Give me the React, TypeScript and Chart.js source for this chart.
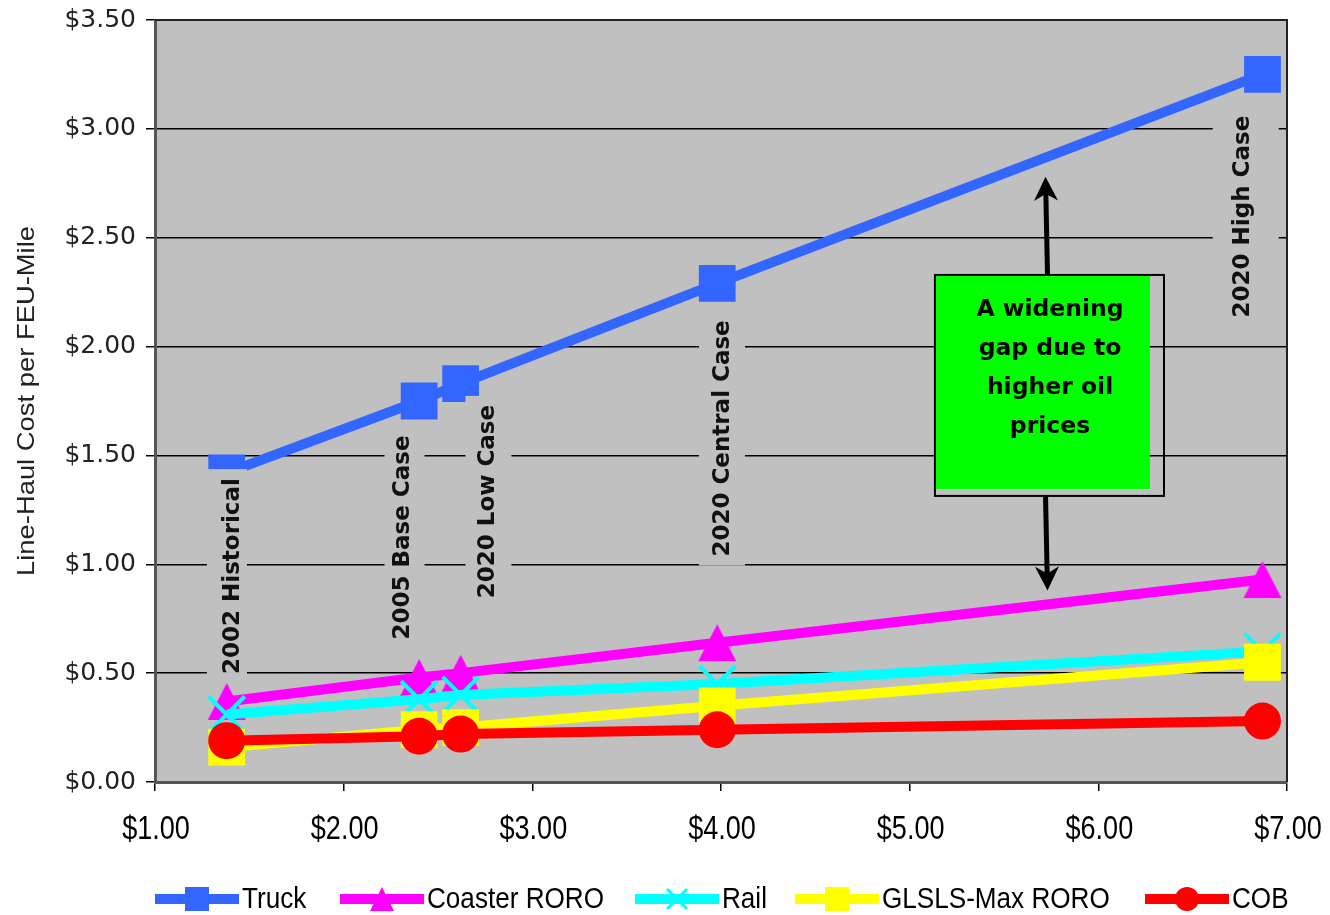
import React, { useEffect, useRef } from 'react';
import { Chart, registerables } from 'chart.js';

Chart.register(...registerables);

// ---- data ----
const oilPrices = [1.38, 2.40, 2.62, 3.98, 6.87];
const truck = [1.42, 1.75, 1.83, 2.29, 3.25];
const coasterRoro = [0.37, 0.48, 0.50, 0.64, 0.93];
const rail = [0.31, 0.38, 0.40, 0.45, 0.60];
const glslsMaxRoro = [0.16, 0.24, 0.25, 0.35, 0.55];
const cob = [0.19, 0.21, 0.22, 0.24, 0.28];
const seriesNames = ['Truck', 'Coaster RORO', 'Rail', 'GLSLS-Max RORO', 'COB'];
const caseLabels = ['2002 Historical', '2005 Base Case', '2020 Low Case', '2020 Central Case', '2020 High Case'];
const calloutLines = ['A widening', 'gap due to', 'higher oil', 'prices'];
const yAxisTitle = 'Line-Haul Cost per FEU-Mile';

// ---- annotation placement (data units) ----
const caseLabelPos = [
  { x: 1.408, y: 0.946, half: 20, dx: -5 },
  { x: 2.312, y: 1.123, half: 20, dx: 2 },
  { x: 2.762, y: 1.288, half: 23, dx: 1 },
  { x: 4.005, y: 1.578, half: 23, dx: 0 },
  { x: 6.76, y: 2.597, half: 33, dx: 4 },
];
const callout = { x0: 5.134, x1: 6.348, fillX1: 6.274, y0: 2.329, y1: 1.314, fillY1: 1.346, textX: 5.744, arrowX: 5.72, upTip: 2.78, downTip: 0.88 };

const colors = ['#3366ff', '#ff00ff', '#00ffff', '#ffff00', '#ff0000'];
const markers = ['rect', 'triangle', 'cross', 'rect', 'circle'];

function makeTriangle(color: string, w: number, h: number) {
  const c = document.createElement('canvas');
  c.width = Math.ceil(w) + 2;
  c.height = Math.ceil(h) + 2;
  const g = c.getContext('2d')!;
  g.fillStyle = color;
  g.beginPath();
  g.moveTo(c.width / 2, 1);
  g.lineTo(c.width / 2 + w / 2, 1 + h);
  g.lineTo(c.width / 2 - w / 2, 1 + h);
  g.closePath();
  g.fill();
  return c;
}

function drawMarker(ctx: CanvasRenderingContext2D, type: string, x: number, y: number, s: number, color: string) {
  ctx.save();
  ctx.fillStyle = color;
  ctx.strokeStyle = color;
  if (type === 'rect') {
    ctx.fillRect(x - s / 2, y - s / 2, s, s);
  } else if (type === 'circle') {
    ctx.beginPath();
    ctx.arc(x, y, s / 2, 0, Math.PI * 2);
    ctx.fill();
  } else if (type === 'triangle') {
    ctx.beginPath();
    ctx.moveTo(x, y - s / 2);
    ctx.lineTo(x + s / 2, y + s / 2);
    ctx.lineTo(x - s / 2, y + s / 2);
    ctx.closePath();
    ctx.fill();
  } else {
    ctx.lineWidth = 3;
    ctx.beginPath();
    ctx.moveTo(x - s / 2, y - s / 2);
    ctx.lineTo(x + s / 2, y + s / 2);
    ctx.moveTo(x + s / 2, y - s / 2);
    ctx.lineTo(x - s / 2, y + s / 2);
    ctx.stroke();
  }
  ctx.restore();
}

function drawArrow(ctx: CanvasRenderingContext2D, x1: number, y1: number, x2: number, y2: number) {
  const ang = Math.atan2(y2 - y1, x2 - x1);
  const headLen = 24;
  const headHalf = 12;
  const bx = x2 - headLen * Math.cos(ang);
  const by = y2 - headLen * Math.sin(ang);
  ctx.save();
  ctx.strokeStyle = '#000';
  ctx.fillStyle = '#000';
  ctx.lineWidth = 5;
  ctx.beginPath();
  ctx.moveTo(x1, y1);
  ctx.lineTo(x2 - 14 * Math.cos(ang), y2 - 14 * Math.sin(ang));
  ctx.stroke();
  ctx.beginPath();
  ctx.moveTo(x2, y2);
  ctx.lineTo(bx + headHalf * Math.sin(ang), by - headHalf * Math.cos(ang));
  ctx.lineTo(x2 - 17 * Math.cos(ang), y2 - 17 * Math.sin(ang));
  ctx.lineTo(bx - headHalf * Math.sin(ang), by + headHalf * Math.cos(ang));
  ctx.closePath();
  ctx.fill();
  ctx.restore();
}

const frameBgPlugin = {
  id: 'frameBg',
  beforeDraw(chart: any) {
    const { ctx, chartArea: a } = chart;
    ctx.save();
    ctx.fillStyle = '#c0c0c0';
    ctx.fillRect(a.left, a.top, a.right - a.left, a.bottom - a.top);
    ctx.restore();
  },
};

const annotationPlugin = {
  id: 'annotations',
  afterDatasetsDraw(chart: any) {
    const { ctx, chartArea: a } = chart;
    const xs = chart.scales.x;
    const ys = chart.scales.y;
    // case labels with grey boxes
    ctx.save();
    ctx.font = 'bold 23px "DejaVu Sans"';
    caseLabels.forEach((t, i) => {
      const p = caseLabelPos[i];
      const cx = xs.getPixelForValue(p.x);
      const cy = ys.getPixelForValue(p.y);
      const w = ctx.measureText(t).width;
      ctx.fillStyle = '#c0c0c0';
      ctx.fillRect(cx + p.dx - p.half, cy - w / 2 - 9, p.half * 2, w + 18);
      ctx.save();
      ctx.translate(cx, cy);
      ctx.rotate(-Math.PI / 2);
      ctx.fillStyle = '#111';
      ctx.textAlign = 'center';
      ctx.textBaseline = 'middle';
      ctx.fillText(t, 0, 1);
      ctx.restore();
    });
    ctx.restore();

    // callout box with arrows
    const bx0 = xs.getPixelForValue(callout.x0);
    const bx1 = xs.getPixelForValue(callout.x1);
    const fx1 = xs.getPixelForValue(callout.fillX1);
    const by0 = ys.getPixelForValue(callout.y0);
    const by1 = ys.getPixelForValue(callout.y1);
    const fy1 = ys.getPixelForValue(callout.fillY1);
    const ax = xs.getPixelForValue(callout.arrowX);
    drawArrow(ctx, ax + 2, by0, ax, ys.getPixelForValue(callout.upTip));
    drawArrow(ctx, ax, by1, ax + 2, ys.getPixelForValue(callout.downTip));
    ctx.save();
    ctx.fillStyle = '#00ff00';
    ctx.fillRect(bx0, by0, fx1 - bx0, fy1 - by0);
    ctx.strokeStyle = '#000';
    ctx.lineWidth = 2;
    ctx.strokeRect(bx0, by0, bx1 - bx0, by1 - by0);
    ctx.fillStyle = '#000';
    ctx.font = 'bold 23.5px "DejaVu Sans"';
    ctx.textAlign = 'center';
    ctx.textBaseline = 'middle';
    const tx = xs.getPixelForValue(callout.textX);
    calloutLines.forEach((l, i) => ctx.fillText(l, tx, by0 + 35 + i * 39));
    ctx.restore();

    // frame top/right
    ctx.save();
    ctx.strokeStyle = '#222';
    ctx.lineWidth = 2;
    ctx.beginPath();
    ctx.moveTo(a.left, a.top);
    ctx.lineTo(a.right, a.top);
    ctx.lineTo(a.right, a.bottom);
    ctx.stroke();
    ctx.restore();
  },
  afterDraw(chart: any) {
    const { ctx, chartArea: a } = chart;
    const xs = chart.scales.x;
    // x tick labels (condensed look)
    ctx.save();
    ctx.font = '33px "Liberation Sans"';
    ctx.fillStyle = '#000';
    ctx.textAlign = 'center';
    ctx.textBaseline = 'middle';
    xs.ticks.forEach((t: any) => {
      const px = xs.getPixelForValue(t.value);
      ctx.save();
      ctx.translate(px + 1, a.bottom + 48);
      ctx.scale(0.82, 1);
      ctx.fillText('$' + Number(t.value).toFixed(2), 0, 0);
      ctx.restore();
    });
    ctx.restore();

    // y axis title
    ctx.save();
    ctx.translate(27, (a.top + a.bottom) / 2);
    ctx.rotate(-Math.PI / 2);
    ctx.font = '24px "Liberation Sans"';
    const w = ctx.measureText(yAxisTitle).width;
    ctx.scale(350 / w, 1);
    ctx.fillStyle = '#222';
    ctx.textAlign = 'center';
    ctx.textBaseline = 'middle';
    ctx.fillText(yAxisTitle, 0, 0);
    ctx.restore();

    // legend
    const lx = [155, 340, 635, 795, 1145];
    const ly = 899;
    ctx.save();
    seriesNames.forEach((name, i) => {
      ctx.strokeStyle = colors[i];
      ctx.lineWidth = 10;
      ctx.beginPath();
      ctx.moveTo(lx[i], ly);
      ctx.lineTo(lx[i] + 84, ly);
      ctx.stroke();
      drawMarker(ctx, markers[i], lx[i] + 42, ly, markers[i] === 'cross' ? 20 : 24, colors[i]);
      ctx.save();
      ctx.translate(lx[i] + 87, ly + 1);
      ctx.scale(0.87, 1);
      ctx.font = '30px "Liberation Sans"';
      ctx.fillStyle = '#000';
      ctx.textBaseline = 'middle';
      ctx.fillText(name, 0, 0);
      ctx.restore();
    });
    ctx.restore();
  },
};

export default function App() {
  const ref = useRef<HTMLCanvasElement | null>(null);
  useEffect(() => {
    document.body.style.margin = '0';
    const canvas = ref.current!;
    const series = [truck, coasterRoro, rail, glslsMaxRoro, cob];
    const pointStyles: any[] = [
      'rect',
      makeTriangle(colors[1], 38, 37),
      'crossRot',
      'rect',
      'circle',
    ];
    const radii = [26, 20, 25.5, 26, 18.5];
    const datasets = series.map((vals, i) => ({
      label: seriesNames[i],
      data: oilPrices.map((x, j) => ({ x, y: vals[j] })),
      borderColor: colors[i],
      backgroundColor: colors[i],
      borderWidth: 10,
      pointStyle: pointStyles[i],
      pointRadius: radii[i],
      pointHoverRadius: radii[i],
      pointBorderWidth: i === 2 ? 4 : 0,
      pointBorderColor: colors[i],
      pointBackgroundColor: colors[i],
      tension: 0,
      order: 5 - i,
      clip: false as any,
    }));
    const money = (v: any) => '$' + Number(v).toFixed(2);
    const chart = new Chart(canvas, {
      type: 'line',
      data: { datasets },
      options: {
        responsive: false,
        animation: false,
        devicePixelRatio: 1,
        layout: { autoPadding: false, padding: { left: 0, top: 20, right: 43, bottom: 0 } } as any,
        plugins: { legend: { display: false }, tooltip: { enabled: false }, title: { display: false } },
        scales: {
          x: {
            type: 'linear',
            min: 1,
            max: 7,
            ticks: {
              stepSize: 1,
              callback: money,
              display: false,
              autoSkip: false,
            },
            grid: { drawOnChartArea: false, drawTicks: true, tickLength: 9, color: '#000', lineWidth: 1.5 },
            border: { display: true, color: '#555', width: 3 },
            afterFit: (s: any) => {
              s.height = 133;
              s.paddingLeft = 0;
              s.paddingRight = 0;
            },
          },
          y: {
            type: 'linear',
            min: 0,
            max: 3.5,
            ticks: {
              stepSize: 0.5,
              callback: money,
              color: '#222',
              padding: 10,
              font: { family: '"DejaVu Sans"', size: 25 },
            },
            grid: { color: '#000', lineWidth: 1.5, tickLength: 9 },
            border: { display: true, color: '#555', width: 3 },
            afterFit: (s: any) => {
              s.width = 155;
              s.paddingTop = 0;
              s.paddingBottom = 0;
            },
          },
        },
      },
      plugins: [frameBgPlugin, annotationPlugin],
    });
    return () => chart.destroy();
  }, []);
  return (
    <div style={{ width: 1330, height: 915 }}>
      <canvas ref={ref} width={1330} height={915} style={{ display: 'block' }} />
    </div>
  );
}
